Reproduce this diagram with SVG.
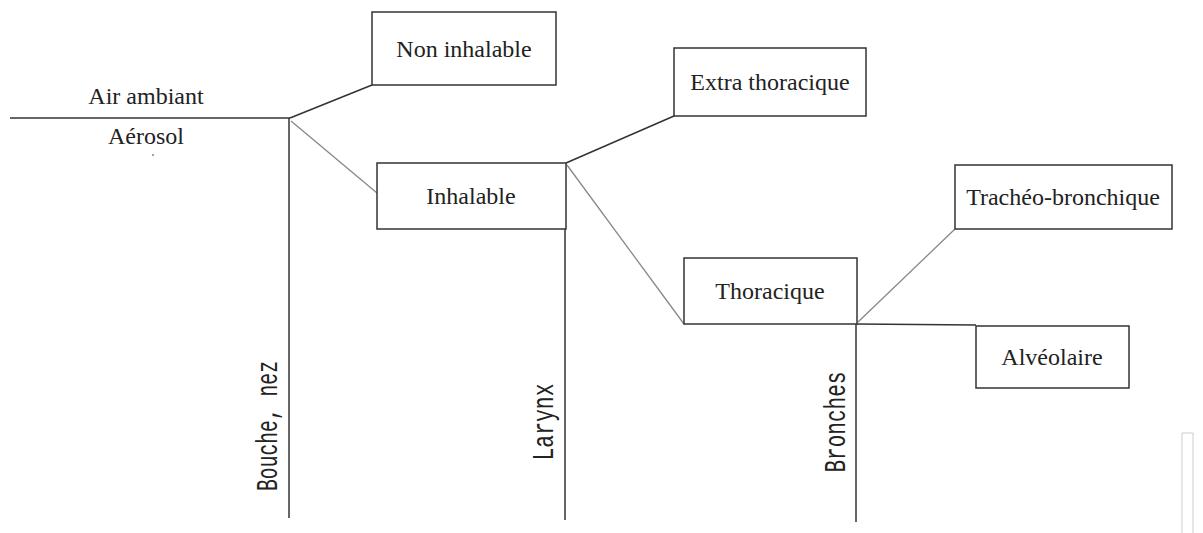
<svg xmlns="http://www.w3.org/2000/svg" width="1203" height="533" viewBox="0 0 1203 533">
<style>
.box{fill:#fff;stroke:#333;stroke-width:1.5}
.lbl{font-family:"Liberation Serif","Times New Roman",serif;font-size:24px;fill:#222;text-anchor:middle}
.vl{font-family:"Liberation Mono","Courier New",monospace;font-size:30px;fill:#222;text-anchor:middle}
.dk{stroke:#333;stroke-width:1.5;fill:none}
.lt{stroke:#888;stroke-width:1.3;fill:none}
</style>
<rect width="1203" height="533" fill="#fff"/>
<g id="connectors">
<line class="dk" x1="10" y1="118" x2="290" y2="118"/>
<line class="dk" x1="289" y1="118" x2="289" y2="518"/>
<line class="dk" x1="290" y1="118" x2="372" y2="85"/>
<line class="lt" x1="291" y1="121" x2="377" y2="193"/>
<line class="dk" x1="566" y1="163" x2="674" y2="116"/>
<line class="lt" x1="567" y1="165" x2="684" y2="324"/>
<line class="dk" x1="565" y1="229" x2="565" y2="520"/>
<line class="lt" x1="858" y1="322" x2="955" y2="229"/>
<line class="dk" x1="857" y1="324" x2="976" y2="325"/>
<line class="dk" x1="856" y1="324" x2="856" y2="522"/>
</g>
<g id="air-ambiant"><text class="lbl" x="146" y="104">Air ambiant</text></g>
<g id="aerosol"><text class="lbl" x="146" y="144">Aérosol</text><circle cx="153" cy="155" r="0.9" fill="#777"/></g>
<g id="non-inhalable"><rect class="box" x="372" y="12" width="184" height="73"/><text class="lbl" x="464" y="57">Non inhalable</text></g>
<g id="inhalable"><rect class="box" x="377" y="163" width="189" height="66"/><text class="lbl" x="471" y="204">Inhalable</text></g>
<g id="extra-thoracique"><rect class="box" x="674" y="48" width="192" height="68"/><text class="lbl" x="770" y="90">Extra thoracique</text></g>
<g id="thoracique"><rect class="box" x="684" y="258" width="173" height="66"/><text class="lbl" x="770" y="299">Thoracique</text></g>
<g id="tracheo-bronchique"><rect class="box" x="955" y="165" width="217" height="64"/><text class="lbl" x="1063" y="205">Trachéo-bronchique</text></g>
<g id="alveolaire"><rect class="box" x="976" y="326" width="153" height="62"/><text class="lbl" x="1052" y="365">Alvéolaire</text></g>
<g id="bouche-nez"><text class="vl" transform="translate(277,426) rotate(-90)" textLength="130" lengthAdjust="spacingAndGlyphs">Bouche, nez</text></g>
<g id="larynx"><text class="vl" transform="translate(553,422) rotate(-90)" textLength="77" lengthAdjust="spacingAndGlyphs">Larynx</text></g>
<g id="bronches"><text class="vl" transform="translate(845,422) rotate(-90)" textLength="101" lengthAdjust="spacingAndGlyphs">Bronches</text></g>
<polyline points="1182,533 1182,433 1193,433 1193,533" fill="none" stroke="#ccc" stroke-width="1"/>
</svg>
